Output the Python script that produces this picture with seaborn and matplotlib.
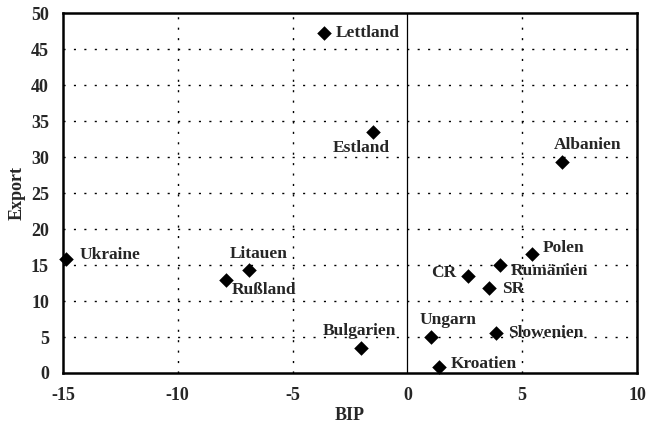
import seaborn as sns
import pandas as pd
import matplotlib.pyplot as plt

# data
laender = ['Lettland', 'Estland', 'Albanien', 'Ukraine', 'Litauen', 'Rußland',
           'Bulgarien', 'Polen', 'Rumänien', 'CR', 'SR', 'Ungarn', 'Slowenien', 'Kroatien']
bip = [-3.65, -1.5, 6.75, -14.85, -6.9, -7.9, -2.0, 5.45, 4.05, 2.65, 3.55, 1.05, 3.85, 1.4]
export = [47.2, 33.5, 29.3, 15.8, 14.3, 12.9, 3.5, 16.5, 15.0, 13.5, 11.8, 5.0, 5.5, 0.9]

# label placement (pixel offsets, alignment)
offsets = {
    'Lettland': (12, 0, 'left'), 'Estland': (-12, -16, 'center'),
    'Albanien': (25, 17, 'center'), 'Ukraine': (13, 4, 'left'),
    'Litauen': (10, 16, 'center'), 'Rußland': (6, -10, 'left'),
    'Bulgarien': (-2, 17, 'center'), 'Polen': (10, 6, 'left'),
    'Rumänien': (10, -6, 'left'), 'CR': (-12, 3, 'right'),
    'SR': (13, -1, 'left'), 'Ungarn': (17, 17, 'center'),
    'Slowenien': (12, 0, 'left'), 'Kroatien': (11, 3, 'left'),
}

sns.set_theme(style="white")
plt.rcParams['font.family'] = ['Liberation Serif', 'DejaVu Serif']
plt.rcParams['font.weight'] = 'bold'
plt.rcParams['axes.unicode_minus'] = False

d = pd.DataFrame({'Land': laender, 'BIP': bip, 'Export': export})

fig, ax = plt.subplots(figsize=(6.48, 4.36), dpi=100)
fig.subplots_adjust(left=0.097, right=0.983, top=0.970, bottom=0.1445)

sns.scatterplot(data=d, x='BIP', y='Export', marker='D', color='black',
                s=55, edgecolor='black', linewidth=0, ax=ax, zorder=5, clip_on=False)

for lab, x, y in zip(laender, bip, export):
    dx, dy, ha = offsets[lab]
    ax.annotate(lab, (x, y), xytext=(dx, dy), textcoords='offset pixels',
                ha=ha, va='center', fontsize=12.5, fontweight='bold')

ax.set_xlim(-15, 10)
ax.set_ylim(0, 50)
ax.set_xticks(range(-15, 11, 5))
ax.set_yticks(range(0, 51, 5))
for gx in [-10, -5, 5]:
    ax.axvline(gx, color='black', linestyle=(0, (1.5, 6)), linewidth=1, zorder=1)
for gy in range(5, 50, 5):
    ax.axhline(gy, color='black', linestyle=(0, (1.5, 6)), linewidth=1, zorder=1)
ax.axvline(0, color='black', linewidth=0.9, zorder=2)

for sp in ax.spines.values():
    sp.set_color('black')
    sp.set_linewidth(1.8)

ax.tick_params(length=0, labelsize=13)
ax.tick_params(axis='x', pad=10)
ax.tick_params(axis='y', pad=10)
plt.xticks(fontweight='bold')
plt.yticks(fontweight='bold')
plt.xlabel('BIP', size=13, fontweight='bold', labelpad=2)
plt.ylabel('Export', size=13, fontweight='bold', labelpad=4)

plt.savefig('out.png', dpi=100)
plt.close()
